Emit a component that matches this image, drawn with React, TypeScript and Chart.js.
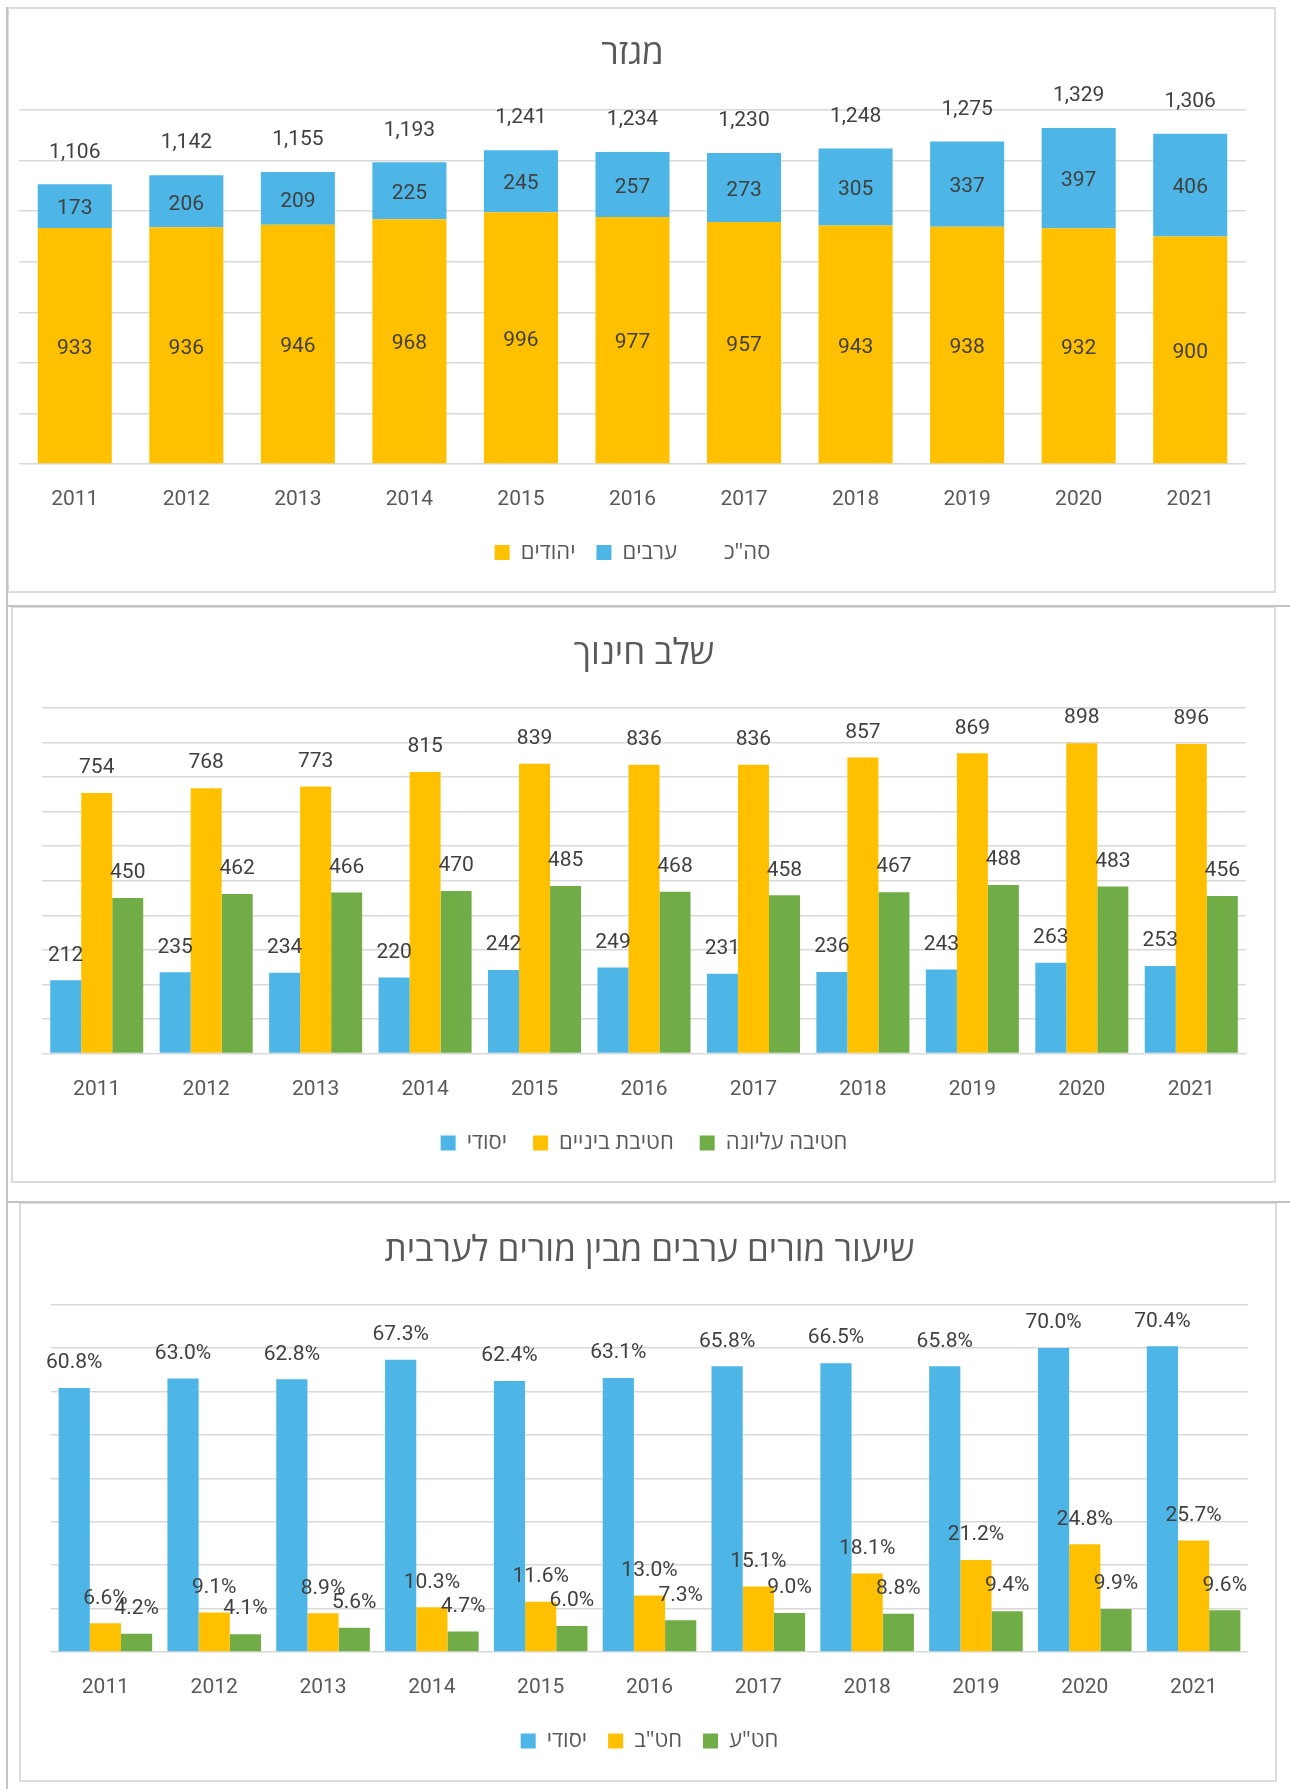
import React, { useEffect, useRef } from 'react';
import { Chart, registerables } from 'chart.js';

Chart.register(...registerables);

// ---------- data ----------
const YEARS = ['2011', '2012', '2013', '2014', '2015', '2016', '2017', '2018', '2019', '2020', '2021'];

// chart 1 : מגזר
const JEWS = [933, 936, 946, 968, 996, 977, 957, 943, 938, 932, 900];
const ARABS = [173, 206, 209, 225, 245, 257, 273, 305, 337, 397, 406];
const TOTALS = [1106, 1142, 1155, 1193, 1241, 1234, 1230, 1248, 1275, 1329, 1306];

// chart 2 : שלב חינוך
const PRIMARY = [212, 235, 234, 220, 242, 249, 231, 236, 243, 263, 253];
const MIDDLE = [754, 768, 773, 815, 839, 836, 836, 857, 869, 898, 896];
const UPPER = [450, 462, 466, 470, 485, 468, 458, 467, 488, 483, 456];

// chart 3 : שיעור מורים ערבים מבין מורים לערבית (%)
const PCT_PRIMARY = [60.8, 63.0, 62.8, 67.3, 62.4, 63.1, 65.8, 66.5, 65.8, 70.0, 70.4];
const PCT_MIDDLE = [6.6, 9.1, 8.9, 10.3, 11.6, 13.0, 15.1, 18.1, 21.2, 24.8, 25.7];
const PCT_UPPER = [4.2, 4.1, 5.6, 4.7, 6.0, 7.3, 9.0, 8.8, 9.4, 9.9, 9.6];

// ---------- style ----------
const YELLOW = '#FFC000';
const BLUE = '#4DB6E6';
const GREEN = '#70AD47';
const GRID = '#d9d9d9';
const AXIS_TEXT = '#595959';
const LABEL_TEXT = '#404040';
const NUM_FONT = "Roboto, 'Open Sans', 'Noto Sans', 'DejaVu Sans', sans-serif";
const HEB_FONT = "'Open Sans', 'Noto Sans', 'DejaVu Sans', sans-serif";

type LabelMode = { inside: boolean; offset: number; lineOffset: number; format: (v: number) => string };

function makeLabelPlugin(mode: LabelMode) {
  return {
    id: 'valueLabels',
    afterDatasetsDraw(chart: any) {
      const ctx = chart.ctx;
      ctx.save();
      ctx.font = `21px ${NUM_FONT}`;
      ctx.fillStyle = LABEL_TEXT;
      ctx.textAlign = 'center';
      ctx.textBaseline = 'middle';
      chart.data.datasets.forEach((ds: any, di: number) => {
        const meta = chart.getDatasetMeta(di);
        meta.data.forEach((el: any, i: number) => {
          const v = ds.data[i] as number;
          const text = mode.format(v);
          let y: number;
          if (meta.type === 'line') y = el.y - mode.lineOffset;
          else if (mode.inside) y = (el.y + el.base) / 2 + 3;
          else y = el.y - mode.offset;
          ctx.fillText(text, el.x, y);
        });
      });
      ctx.restore();
    },
  };
}

type Layout = {
  pl: number; pr: number; pb: number;
  titleTop: number; titleBottom: number;
  tickPad: number; axisHeight: number; legendPad: number;
};

function baseOptions(title: string, lay: Layout, yMax: number, yStep: number, stacked: boolean) {
  return {
    responsive: false,
    animation: false,
    devicePixelRatio: 1,
    events: [],
    layout: { padding: { left: lay.pl, right: lay.pr, top: 0, bottom: lay.pb } },
    plugins: {
      title: {
        display: true,
        text: title,
        color: AXIS_TEXT,
        font: { family: HEB_FONT, size: 35, weight: 'normal' },
        padding: { top: lay.titleTop, bottom: lay.titleBottom },
      },
      legend: {
        position: 'bottom',
        labels: {
          color: AXIS_TEXT,
          font: { family: HEB_FONT, size: 22 },
          boxWidth: 15,
          boxHeight: 15,
          padding: lay.legendPad,
        },
      },
      tooltip: { enabled: false },
    },
    scales: {
      x: {
        stacked,
        grid: { display: false },
        border: { display: false },
        ticks: { color: AXIS_TEXT, font: { family: NUM_FONT, size: 21 }, padding: lay.tickPad },
        afterFit: (s: any) => { s.height = lay.axisHeight; },
      },
      y: {
        stacked,
        min: 0,
        max: yMax,
        ticks: { display: false, stepSize: yStep },
        grid: { color: GRID, lineWidth: 1.5, drawTicks: false },
        border: { display: false },
      },
    },
  };
}

function useChart(ref: React.RefObject<HTMLCanvasElement>, build: () => any) {
  useEffect(() => {
    if (!ref.current) return;
    const chart = new Chart(ref.current, build());
    return () => chart.destroy();
  }, []);
}

function SectorChart() {
  const ref = useRef<HTMLCanvasElement>(null);
  useChart(ref, () => ({
    type: 'bar',
    data: {
      labels: YEARS,
      datasets: [
        { label: 'יהודים', data: JEWS, backgroundColor: YELLOW, barPercentage: 0.664, categoryPercentage: 1 },
        { label: 'ערבים', data: ARABS, backgroundColor: BLUE, barPercentage: 0.664, categoryPercentage: 1 },
        {
          type: 'line', label: 'סה"כ', data: TOTALS, showLine: false, pointRadius: 0,
          borderColor: 'rgba(0,0,0,0)', backgroundColor: 'rgba(0,0,0,0)',
        },
      ],
    },
    options: baseOptions('מגזר', {
      pl: 10, pr: 28, pb: 17.5, titleTop: 24, titleBottom: 35,
      tickPad: 15, axisHeight: 56.5, legendPad: 21,
    }, 1400, 200, true),
    plugins: [makeLabelPlugin({ inside: true, offset: 0, lineOffset: 32, format: (v) => v.toLocaleString('en-US') })],
  }));
  return <canvas ref={ref} width={1265} height={582}
    style={{ position: 'absolute', left: 9, top: 9, width: 1265, height: 582 }} />;
}

function StageChart() {
  const ref = useRef<HTMLCanvasElement>(null);
  useChart(ref, () => ({
    type: 'bar',
    data: {
      labels: YEARS,
      datasets: [
        { label: 'יסודי', data: PRIMARY, backgroundColor: BLUE, barPercentage: 1, categoryPercentage: 0.85 },
        { label: 'חטיבת ביניים', data: MIDDLE, backgroundColor: YELLOW, barPercentage: 1, categoryPercentage: 0.85 },
        { label: 'חטיבה עליונה', data: UPPER, backgroundColor: GREEN, barPercentage: 1, categoryPercentage: 0.85 },
      ],
    },
    options: baseOptions('שלב חינוך', {
      pl: 29, pr: 28, pb: 17, titleTop: 25.5, titleBottom: 32.5,
      tickPad: 15.6, axisHeight: 52.5, legendPad: 26,
    }, 1000, 100, false),
    plugins: [makeLabelPlugin({ inside: false, offset: 25, lineOffset: 0, format: (v) => String(v) })],
  }));
  return <canvas ref={ref} width={1261} height={573}
    style={{ position: 'absolute', left: 13, top: 608, width: 1261, height: 573 }} />;
}

function RateChart() {
  const ref = useRef<HTMLCanvasElement>(null);
  useChart(ref, () => ({
    type: 'bar',
    data: {
      labels: YEARS,
      datasets: [
        { label: 'יסודי', data: PCT_PRIMARY, backgroundColor: BLUE, barPercentage: 1, categoryPercentage: 0.86 },
        { label: 'חט"ב', data: PCT_MIDDLE, backgroundColor: YELLOW, barPercentage: 1, categoryPercentage: 0.86 },
        { label: 'חט"ע', data: PCT_UPPER, backgroundColor: GREEN, barPercentage: 1, categoryPercentage: 0.86 },
      ],
    },
    options: baseOptions('שיעור מורים ערבים מבין מורים לערבית', {
      pl: 30, pr: 27, pb: 18, titleTop: 26, titleBottom: 32.6,
      tickPad: 15.6, axisHeight: 57, legendPad: 21,
    }, 80, 10, false),
    plugins: [makeLabelPlugin({ inside: false, offset: 25, lineOffset: 0, format: (v) => v.toFixed(1) + '%' })],
  }));
  return <canvas ref={ref} width={1254} height={576}
    style={{ position: 'absolute', left: 21, top: 1204, width: 1254, height: 576 }} />;
}

const abs = (left: number, top: number, width: number, height: number, extra: React.CSSProperties = {}): React.CSSProperties => ({
  position: 'absolute', left, top, width, height, boxSizing: 'border-box', ...extra,
});

export default function App() {
  return (
    <div style={{ position: 'absolute', left: 0, top: 0, width: 1290, height: 1789, background: '#fff', overflow: 'hidden' }}>
      {/* frames */}
      <div style={abs(7, 7, 1269, 586, { border: '2px solid #dcdcdc' })} />
      <div style={abs(11, 606, 1265, 577, { border: '2px solid #dcdcdc' })} />
      <div style={abs(19, 1202, 1258, 580, { border: '2px solid #dcdcdc' })} />
      <div style={abs(6, 7, 2, 1782, { background: '#c4c4c4' })} />
      <div style={abs(7, 605, 1283, 2, { background: '#c4c4c4' })} />
      <div style={abs(7, 1201, 1283, 2, { background: '#c4c4c4' })} />
      <SectorChart />
      <StageChart />
      <RateChart />
    </div>
  );
}
